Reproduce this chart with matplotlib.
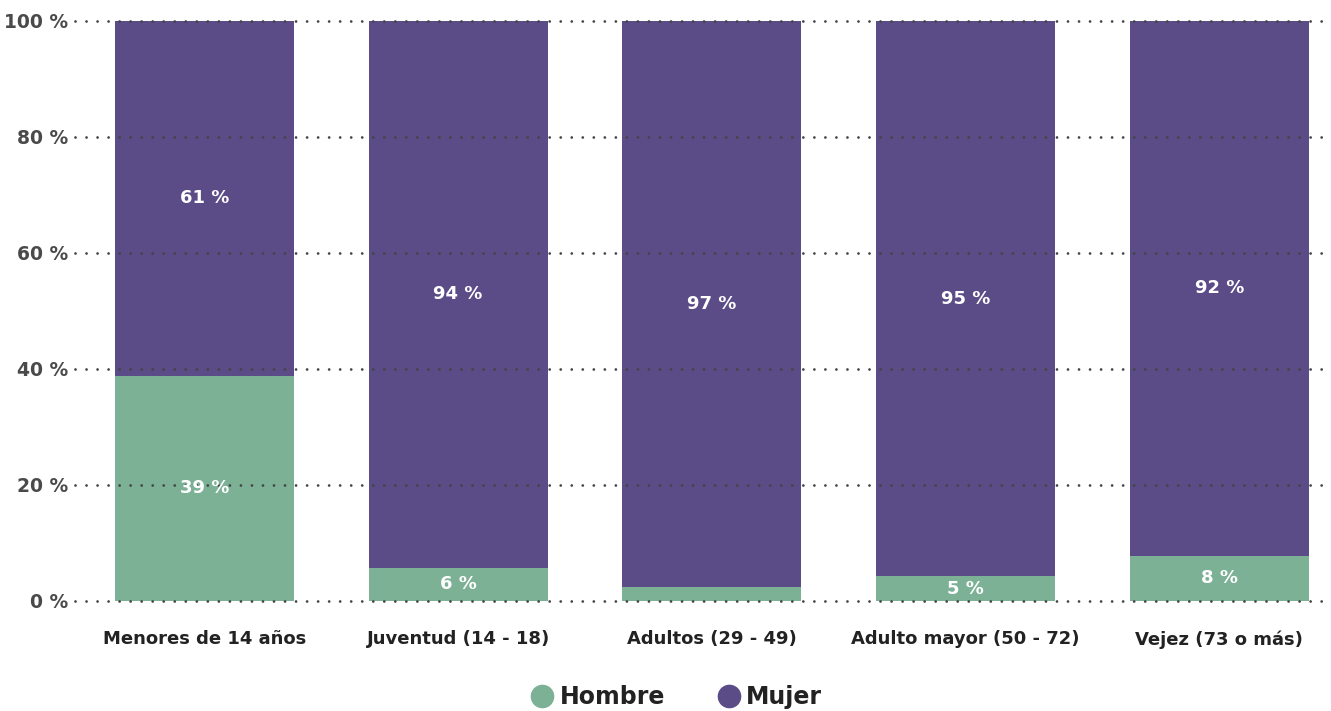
import matplotlib
matplotlib.use('Agg')
import matplotlib.pyplot as plt
from matplotlib.lines import Line2D
import numpy as np

categorias = ['Menores de 14 años', 'Juventud (14 - 18)', 'Adultos (29 - 49)',
              'Adulto mayor (50 - 72)', 'Vejez (73 o más)']
hombre = [38.8, 5.7, 2.4, 4.3, 7.8]
mujer = [61.2, 94.3, 97.6, 95.7, 92.2]
etiq_hombre = ['39 %', '6 %', '', '5 %', '8 %']
etiq_mujer = ['61 %', '94 %', '97 %', '95 %', '92 %']
yticks = [0, 20, 40, 60, 80, 100]

VERDE = '#7cb196'
MORADO = '#5b4b87'

plt.rcParams['font.family'] = ['DejaVu Sans']

fig = plt.figure(figsize=(13.31, 7.11), dpi=100)
ax = fig.add_axes([75 / 1331, 110 / 711, 1 - 75 / 1331, 580 / 711])

x = np.arange(len(categorias))
w = 0.705
ax.bar(x, hombre, w, color=VERDE, zorder=2)
ax.bar(x, mujer, w, bottom=hombre, color=MORADO, zorder=2)

for i in range(len(x)):
    if etiq_hombre[i]:
        ax.text(x[i], hombre[i] / 2, etiq_hombre[i], ha='center', va='center',
                color='white', fontsize=13, fontweight='bold', zorder=4)
    ax.text(x[i], hombre[i] + mujer[i] / 2, etiq_mujer[i], ha='center', va='center',
            color='white', fontsize=13, fontweight='bold', zorder=4)

# lineas punteadas encima de las barras
for t in yticks:
    ax.axhline(t, color='#444444', linewidth=2.0, linestyle=(0, (0.01, 3.96)),
               dash_capstyle='round', zorder=3, clip_on=False)

ax.set_xlim(-0.51, 4.44)
ax.set_ylim(0, 100)
ax.set_yticks(yticks)
ax.set_yticklabels([f'{t} %' for t in yticks], fontsize=13.5, fontweight='bold',
                   color='#4a4a4a')
ax.set_xticks(x)
ax.set_xticklabels(categorias, fontsize=13, fontweight='bold', color='#222222')
ax.tick_params(axis='y', length=0, pad=5)
ax.tick_params(axis='x', length=0, pad=21)
for s in ax.spines.values():
    s.set_visible(False)

handles = [Line2D([], [], marker='o', linestyle='none', markersize=16,
                  markerfacecolor=VERDE, markeredgecolor=VERDE),
           Line2D([], [], marker='o', linestyle='none', markersize=16,
                  markerfacecolor=MORADO, markeredgecolor=MORADO)]
leg = fig.legend(handles, ['Hombre', 'Mujer'], loc='center', ncol=2,
                 bbox_to_anchor=(0.508, 0.02), frameon=False,
                 prop={'size': 17, 'weight': 'bold'}, handletextpad=0.25,
                 columnspacing=2.2, handlelength=1.0)
for t in leg.get_texts():
    t.set_color('#222222')

fig.savefig('out.png', dpi=100)
